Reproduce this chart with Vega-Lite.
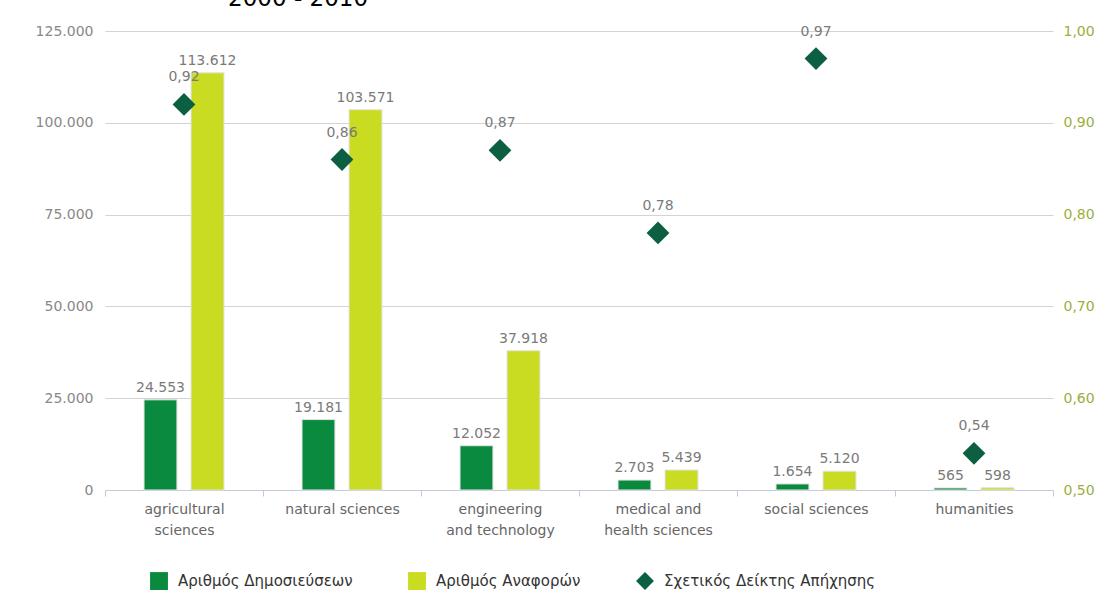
{
  "$schema": "https://vega.github.io/schema/vega-lite/v6.json",
  "width": 948,
  "height": 459,
  "autosize": {"type": "none"},
  "padding": {"left": 105, "top": 31, "right": 52, "bottom": 122},
  "background": "white",
  "title": {"text": "2000 - 2010", "anchor": "start", "dx": 193, "offset": 13, "fontSize": 23, "fontWeight": "normal", "color": "#000000", "font": "DejaVu Sans"},
  "config": {
    "locale": {"number": {"decimal": ",", "thousands": ".", "grouping": [3], "currency": ["", " €"]}},
    "view": {"stroke": null},
    "font": "DejaVu Sans"
  },
  "data": {
    "values": [
      {"field": "agricultural sciences", "series": "Αριθμός Δημοσιεύσεων", "value": 24553},
      {"field": "agricultural sciences", "series": "Αριθμός Αναφορών", "value": 113612},
      {"field": "agricultural sciences", "series": "Σχετικός Δείκτης Απήχησης", "value": 0.92},
      {"field": "natural sciences", "series": "Αριθμός Δημοσιεύσεων", "value": 19181},
      {"field": "natural sciences", "series": "Αριθμός Αναφορών", "value": 103571},
      {"field": "natural sciences", "series": "Σχετικός Δείκτης Απήχησης", "value": 0.86},
      {"field": "engineering and technology", "series": "Αριθμός Δημοσιεύσεων", "value": 12052},
      {"field": "engineering and technology", "series": "Αριθμός Αναφορών", "value": 37918},
      {"field": "engineering and technology", "series": "Σχετικός Δείκτης Απήχησης", "value": 0.87},
      {"field": "medical and health sciences", "series": "Αριθμός Δημοσιεύσεων", "value": 2703},
      {"field": "medical and health sciences", "series": "Αριθμός Αναφορών", "value": 5439},
      {"field": "medical and health sciences", "series": "Σχετικός Δείκτης Απήχησης", "value": 0.78},
      {"field": "social sciences", "series": "Αριθμός Δημοσιεύσεων", "value": 1654},
      {"field": "social sciences", "series": "Αριθμός Αναφορών", "value": 5120},
      {"field": "social sciences", "series": "Σχετικός Δείκτης Απήχησης", "value": 0.97},
      {"field": "humanities", "series": "Αριθμός Δημοσιεύσεων", "value": 565},
      {"field": "humanities", "series": "Αριθμός Αναφορών", "value": 598},
      {"field": "humanities", "series": "Σχετικός Δείκτης Απήχησης", "value": 0.54}
    ]
  },
  "layer": [
    {
      "transform": [{"filter": "datum.series !== 'Σχετικός Δείκτης Απήχησης'"}],
      "encoding": {
        "x": {
          "field": "field", "type": "nominal", "sort": null,
          "scale": {"paddingInner": 0, "paddingOuter": 0},
          "axis": {
            "title": null, "labelAngle": 0, "tickBand": "extent",
            "tickColor": "#c5cbd9", "domainColor": "#c5cbd9", "tickSize": 6,
            "labelColor": "#666666", "labelFontSize": 14, "labelPadding": 6, "labelLineHeight": 21,
            "labelExpr": "datum.label == 'agricultural sciences' ? ['agricultural', 'sciences'] : datum.label == 'engineering and technology' ? ['engineering', 'and technology'] : datum.label == 'medical and health sciences' ? ['medical and', 'health sciences'] : datum.label"
          }
        },
        "xOffset": {"field": "series", "type": "nominal", "sort": null, "scale": {"paddingInner": 0.3, "paddingOuter": 0.83}},
        "y": {
          "field": "value", "type": "quantitative",
          "scale": {"domain": [0, 125000], "nice": false},
          "axis": {
            "title": null, "values": [0, 25000, 50000, 75000, 100000, 125000], "format": ",.0f",
            "grid": true, "gridColor": "#d3d3d3", "domain": false, "ticks": false,
            "labelPadding": 12, "labelColor": "#888888", "labelFontSize": 14
          }
        }
      },
      "layer": [
        {
          "mark": {"type": "bar", "stroke": "#e2e2e2", "strokeWidth": 1},
          "encoding": {
            "color": {
              "field": "series", "type": "nominal",
              "scale": {"domain": ["Αριθμός Δημοσιεύσεων", "Αριθμός Αναφορών", "Σχετικός Δείκτης Απήχησης"], "range": ["#0a8a3f", "#c9dc21", "#0c5f40"]},
              "legend": {
                "title": null, "orient": "none", "legendX": 45, "legendY": 541, "direction": "horizontal",
                "columnPadding": 55, "labelFontSize": 15, "labelColor": "#333333", "symbolSize": 320,
                "symbolStrokeWidth": 0, "labelOffset": 10, "padding": 0, "labelLimit": 0
              }
            }
          }
        },
        {
          "mark": {"type": "text", "baseline": "bottom", "dy": -5, "fontSize": 14, "color": "#7a7a7a"},
          "encoding": {"text": {"field": "value", "type": "quantitative", "format": ",.0f"}}
        }
      ]
    },
    {
      "transform": [{"filter": "datum.series === 'Σχετικός Δείκτης Απήχησης'"}],
      "encoding": {
        "x": {"field": "field", "type": "nominal", "sort": null},
        "y": {
          "field": "value", "type": "quantitative",
          "scale": {"domain": [0.5, 1], "nice": false},
          "axis": {
            "orient": "right", "title": null, "values": [0.5, 0.6, 0.7, 0.8, 0.9, 1.0], "format": ".2f",
            "grid": false, "domain": false, "ticks": false,
            "labelPadding": 10, "labelColor": "#9cae3c", "labelFontSize": 14
          }
        }
      },
      "layer": [
        {
          "mark": {"type": "point", "filled": true, "size": 520, "opacity": 1},
          "encoding": {
            "color": {"field": "series", "type": "nominal"},
            "shape": {
              "field": "series", "type": "nominal",
              "scale": {"domain": ["Αριθμός Δημοσιεύσεων", "Αριθμός Αναφορών", "Σχετικός Δείκτης Απήχησης"], "range": ["square", "square", "diamond"]}
            }
          }
        },
        {
          "mark": {"type": "text", "baseline": "bottom", "dy": -20, "fontSize": 14, "color": "#7a7a7a"},
          "encoding": {"text": {"field": "value", "type": "quantitative", "format": ".2f"}}
        }
      ]
    }
  ],
  "resolve": {"scale": {"y": "independent"}}
}
